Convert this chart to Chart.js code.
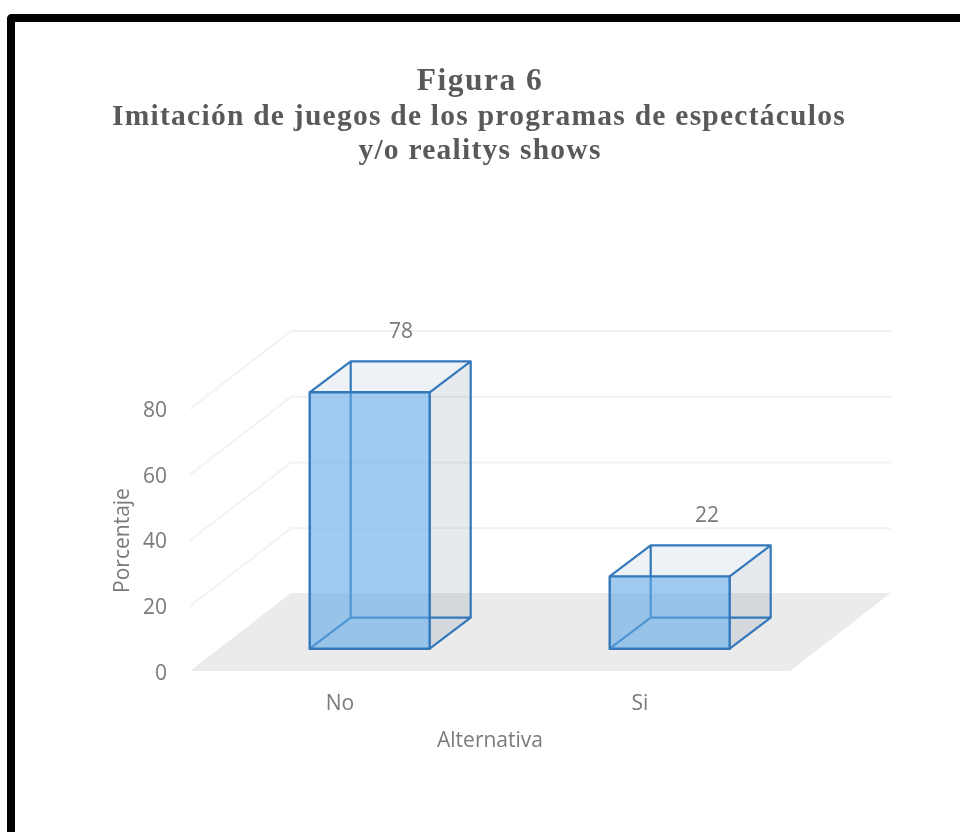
<!DOCTYPE html>
<html>
<head>
<meta charset="utf-8">
<title>Figura 6</title>
<script src="https://cdn.jsdelivr.net/npm/chart.js@4"></script>
<style>
  html, body { margin: 0; padding: 0; background: #fff; overflow: hidden; }
  #wrap { position: relative; width: 960px; height: 832px; }
  #frame {
    position: absolute; left: 7px; top: 14px; right: 0; bottom: 0;
    border-left: 8px solid #000; border-top: 8px solid #000;
    border-top-left-radius: 5px;
  }
  #figura6 { position: absolute; left: 0; top: 0; }
</style>
</head>
<body>
<div id="wrap">
  <div id="frame"></div>
  <canvas id="figura6" width="960" height="832"></canvas>
</div>
<script>
const categories = ['No', 'Si'];
const porcentaje = [78, 22];
const yTicks = [0, 20, 40, 60, 80];
const titleLines = [
    'Figura 6',
    'Imitación de juegos de los programas de espectáculos',
    'y/o realitys shows'
];

const SANS = '"Open Sans", sans-serif';
const TEXT_GREY = '#7a7a7a';

// Fake 3D: the floor runs back by (wallX, wallY), bars sit partway in
const wallX = 101, wallY = -78;
const barShiftX = 29.7, barShiftY = -23.3;
const boxDepthX = 41, boxDepthY = -31;
const edgeColor = '#3278ba';

function polygon(ctx, points, fill) {
    ctx.beginPath();
    points.forEach((p, i) => i ? ctx.lineTo(p[0], p[1]) : ctx.moveTo(p[0], p[1]));
    ctx.closePath();
    ctx.fillStyle = fill;
    ctx.fill();
}

const titlePlugin = {
    id: 'spacedTitle',
    afterDraw(chart) {
        const ctx = chart.ctx;
        ctx.save();
        ctx.fillStyle = '#595959';
        ctx.textAlign = 'center';
        ctx.textBaseline = 'alphabetic';
        ctx.letterSpacing = '1.5px';
        ctx.font = 'bold 31.5px "Liberation Serif", serif';
        ctx.fillText(titleLines[0], 480, 90);
        ctx.letterSpacing = '1.25px';
        ctx.font = 'bold 29.5px "Liberation Serif", serif';
        ctx.fillText(titleLines[1], 479, 125);
        ctx.fillText(titleLines[2], 480, 159);
        ctx.restore();
    }
};

const wallsPlugin = {
    id: 'walls',
    beforeDatasetsDraw(chart) {
        const ctx = chart.ctx;
        const { left, right } = chart.chartArea;
        const y = chart.scales.y;
        ctx.save();
        const y0 = y.getPixelForValue(0) - 1;
        polygon(ctx, [
            [left, y0], [right, y0],
            [right + wallX, y0 + wallY], [left + wallX, y0 + wallY]
        ], '#ebebeb');
        ctx.strokeStyle = '#f2f2f2';
        ctx.lineWidth = 2;
        y.ticks.forEach(t => {
            if (t.value === 0) return;
            const py = y.getPixelForValue(t.value);
            ctx.beginPath();
            ctx.moveTo(left, py);
            ctx.lineTo(left + wallX, py + wallY);
            ctx.lineTo(right + wallX, py + wallY);
            ctx.stroke();
        });
        ctx.restore();
    }
};

const boxPlugin = {
    id: 'box3d',
    beforeDatasetDraw(chart, args) {
        const ctx = chart.ctx;
        // back and side faces go under the library's own bar
        args.meta.data.forEach(bar => {
            const p = bar.getProps(['x', 'y', 'base', 'width'], true);
            const x0 = p.x - p.width / 2 + barShiftX, x1 = p.x + p.width / 2 + barShiftX;
            const top = p.y + barShiftY, bot = p.base + barShiftY;
            const dx = boxDepthX, dy = boxDepthY;
            ctx.save();
            polygon(ctx, [[x1, top], [x1 + dx, top + dy], [x1 + dx, bot + dy], [x1, bot]], 'rgba(60,95,125,0.13)');
            polygon(ctx, [[x0, top], [x1, top], [x1 + dx, top + dy], [x0 + dx, top + dy]], 'rgba(70,115,165,0.09)');
            ctx.strokeStyle = edgeColor;
            ctx.lineWidth = 2.2;
            ctx.lineJoin = 'round';
            ctx.beginPath();
            ctx.moveTo(x0, top); ctx.lineTo(x0 + dx, top + dy);
            ctx.lineTo(x1 + dx, top + dy); ctx.lineTo(x1, top);
            ctx.moveTo(x1 + dx, top + dy); ctx.lineTo(x1 + dx, bot + dy); ctx.lineTo(x1, bot);
            ctx.moveTo(x0 + dx, top + dy); ctx.lineTo(x0 + dx, bot + dy);
            ctx.moveTo(x0, bot); ctx.lineTo(x0 + dx, bot + dy); ctx.lineTo(x1 + dx, bot + dy);
            ctx.stroke();
            ctx.restore();
        });
        // front face: same bar, pushed back onto the floor
        ctx.save();
        ctx.translate(barShiftX, barShiftY);
    },
    afterDatasetDraw(chart, args) {
        const ctx = chart.ctx;
        // outline centred on the bar's edge, the library would inset it
        args.meta.data.forEach(bar => {
            const p = bar.getProps(['x', 'y', 'base', 'width'], true);
            ctx.strokeStyle = edgeColor;
            ctx.lineWidth = 2.4;
            ctx.lineJoin = 'round';
            ctx.strokeRect(p.x - p.width / 2, p.y, p.width, p.base - p.y);
        });
        ctx.restore();
    },
    afterDatasetsDraw(chart, args, opts) {
        const ctx = chart.ctx;
        const meta = chart.getDatasetMeta(0);
        ctx.save();
        ctx.fillStyle = TEXT_GREY;
        ctx.font = '21px ' + SANS;
        ctx.textAlign = 'center';
        ctx.textBaseline = 'middle';
        meta.data.forEach((bar, i) => {
            ctx.fillText(String(porcentaje[i]), bar.x + opts.labelDx[i], bar.y + opts.labelDy[i]);
        });
        ctx.restore();
    }
};

const chart = new Chart(document.getElementById('figura6'), {
    type: 'bar',
    data: {
        labels: categories,
        datasets: [{
            label: 'Porcentaje',
            data: porcentaje,
            backgroundColor: 'rgba(97,168,230,0.6)',
            borderWidth: 0,
            barPercentage: 0.4,
            categoryPercentage: 1,
            clip: false
        }]
    },
    options: {
        responsive: false,
        animation: false,
        layout: { padding: { left: 110, right: 170, top: 409, bottom: 78 } },
        plugins: {
            legend: { display: false },
            tooltip: { enabled: false },
            box3d: { labelDx: [61, 67], labelDy: [-84, -83.7] }
        },
        scales: {
            x: {
                grid: { display: false },
                border: { display: false },
                ticks: { color: TEXT_GREY, font: { family: SANS, size: 21 }, padding: 11, maxRotation: 0 },
                title: { display: true, text: 'Alternativa', color: TEXT_GREY, font: { family: SANS, size: 21 }, padding: 0 },
                afterFit(scale) { scale.height = 82; }
            },
            y: {
                min: 0,
                max: 80,
                afterBuildTicks(scale) { scale.ticks = yTicks.map(v => ({ value: v })); },
                grid: { display: false },
                border: { display: false },
                ticks: { color: TEXT_GREY, font: { family: SANS, size: 21 }, padding: 15 },
                title: { display: true, text: 'Porcentaje', color: TEXT_GREY, font: { family: SANS, size: 21 }, padding: 0 },
                afterFit(scale) { scale.width = 80; }
            }
        }
    },
    plugins: [wallsPlugin, boxPlugin, titlePlugin]
});

// Open Sans sits high on a middle baseline, nudge the y tick labels down
const yScale = chart.scales.y;
const computeItems = yScale._computeLabelItems;
yScale._computeLabelItems = function (area) {
    return computeItems.call(this, area).map(item => {
        item.options.translation[1] += 2;
        return item;
    });
};
yScale._labelItems = null;
chart.draw();
</script>
</body>
</html>
